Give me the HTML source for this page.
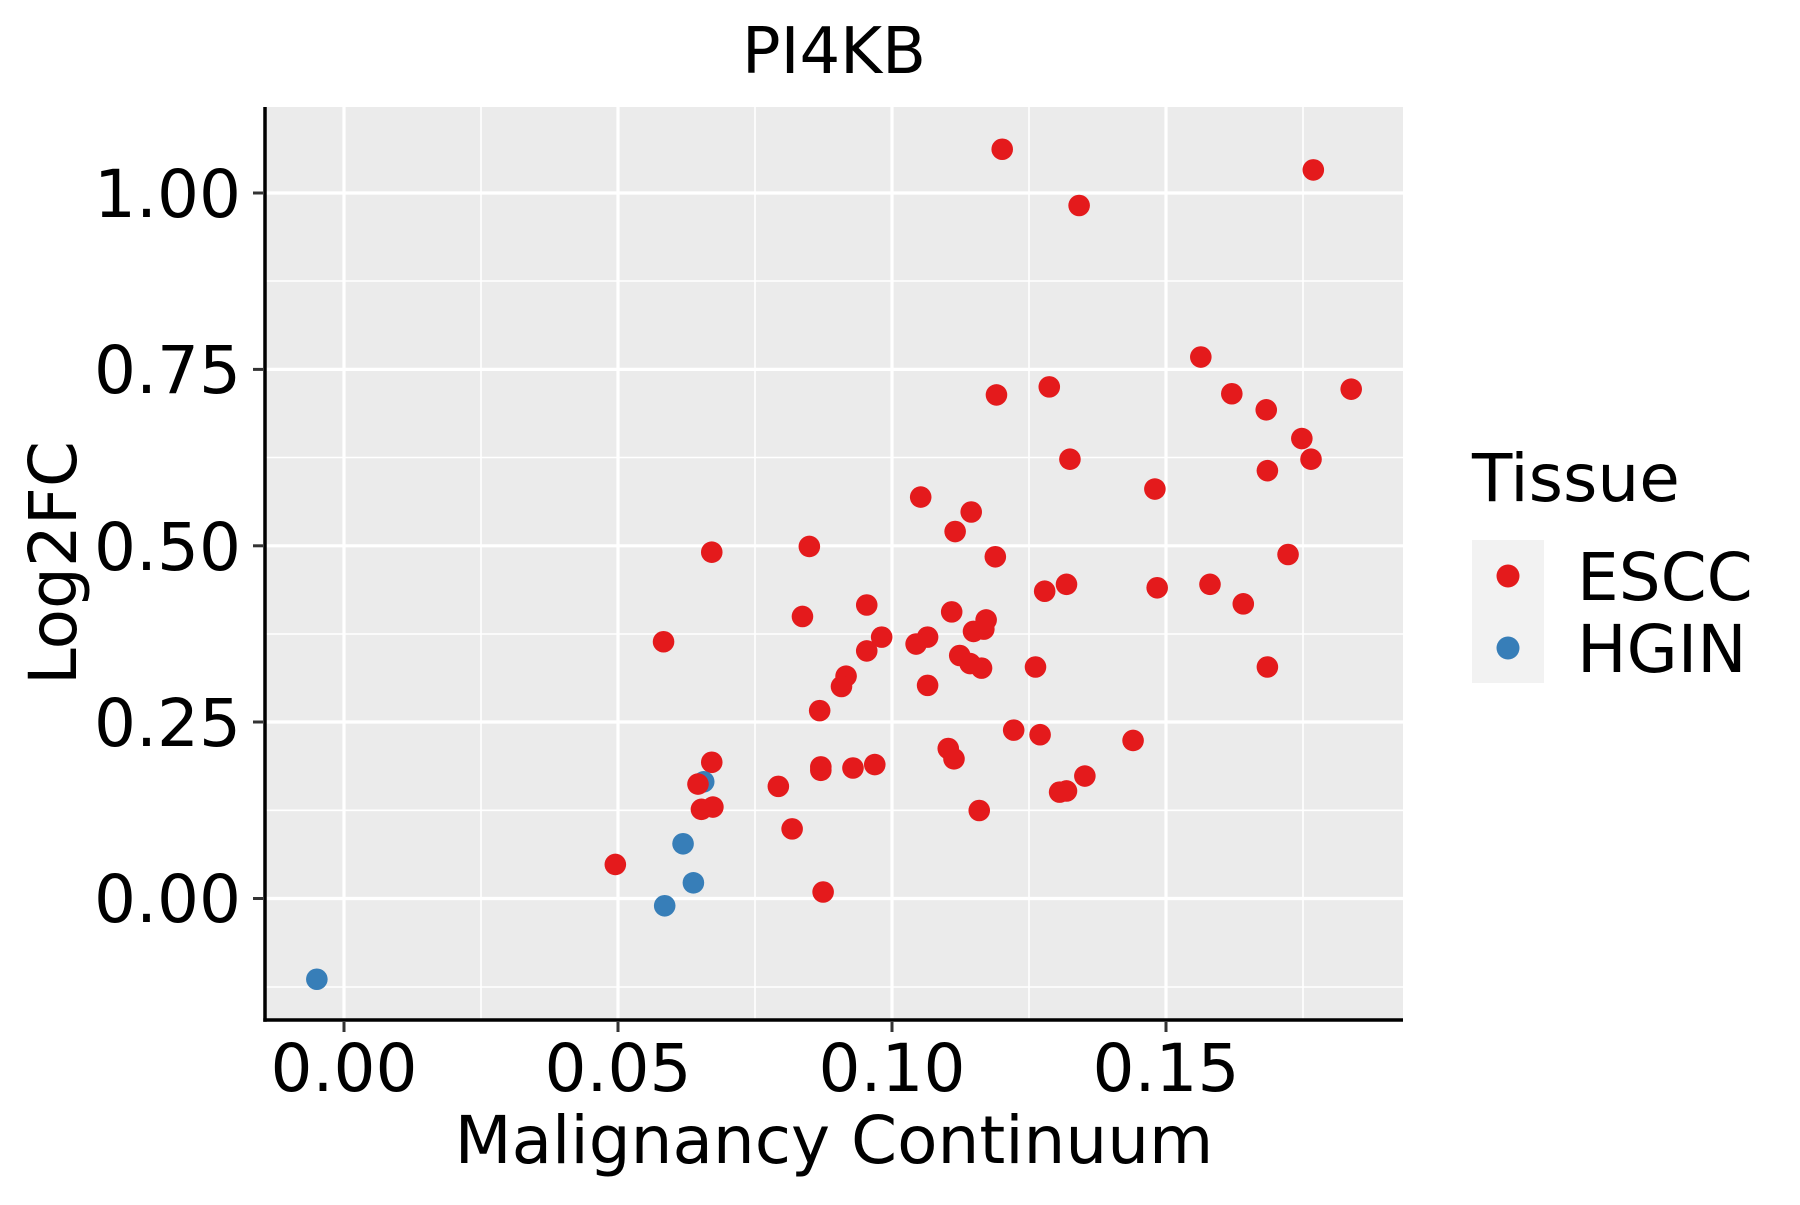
<!DOCTYPE html>
<html><head><meta charset="utf-8"><style>
html,body{margin:0;padding:0;background:#fff}
svg text{font-family:"DejaVu Sans","Liberation Sans",sans-serif;fill:#000}
</style></head><body>
<svg width="1800" height="1200" viewBox="0 0 1800 1200" xmlns="http://www.w3.org/2000/svg">
<rect x="265" y="107" width="1138" height="913" fill="#EBEBEB"/>
<g stroke="#fff" stroke-width="1.6">
<line x1="265" x2="1403" y1="987" y2="987"/>
<line x1="265" x2="1403" y1="810.3" y2="810.3"/>
<line x1="265" x2="1403" y1="634" y2="634"/>
<line x1="265" x2="1403" y1="457.5" y2="457.5"/>
<line x1="265" x2="1403" y1="281" y2="281"/>
<line y1="107" y2="1020" x1="481" x2="481"/>
<line y1="107" y2="1020" x1="755" x2="755"/>
<line y1="107" y2="1020" x1="1029" x2="1029"/>
<line y1="107" y2="1020" x1="1303" x2="1303"/>
</g>
<g stroke="#fff" stroke-width="3.2">
<line x1="265" x2="1403" y1="898.5" y2="898.5"/>
<line x1="265" x2="1403" y1="722" y2="722"/>
<line x1="265" x2="1403" y1="545.8" y2="545.8"/>
<line x1="265" x2="1403" y1="369.4" y2="369.4"/>
<line x1="265" x2="1403" y1="193" y2="193"/>
<line y1="107" y2="1020" x1="344" x2="344"/>
<line y1="107" y2="1020" x1="618" x2="618"/>
<line y1="107" y2="1020" x1="892" x2="892"/>
<line y1="107" y2="1020" x1="1166" x2="1166"/>
</g>
<g transform="scale(1.148)">
<g fill="#E41A1C">
<circle cx="873" cy="130" r="9.4"/><circle cx="1144" cy="148" r="9.4"/><circle cx="940" cy="179" r="9.4"/><circle cx="1046" cy="311" r="9.4"/><circle cx="1177" cy="339" r="9.4"/><circle cx="914" cy="337" r="9.4"/><circle cx="868" cy="344" r="9.4"/><circle cx="1073" cy="343" r="9.4"/><circle cx="1103" cy="357" r="9.4"/><circle cx="1134" cy="382" r="9.4"/><circle cx="932" cy="400" r="9.4"/><circle cx="1142" cy="400" r="9.4"/><circle cx="1104" cy="410" r="9.4"/><circle cx="1006" cy="426" r="9.4"/><circle cx="802" cy="433" r="9.4"/><circle cx="846" cy="446" r="9.4"/><circle cx="832" cy="463" r="9.4"/><circle cx="705" cy="476" r="9.4"/><circle cx="620" cy="481" r="9.4"/><circle cx="867" cy="485" r="9.4"/><circle cx="1122" cy="483" r="9.4"/><circle cx="929" cy="509" r="9.4"/><circle cx="1054" cy="509" r="9.4"/><circle cx="910" cy="515" r="9.4"/><circle cx="1008" cy="512" r="9.4"/><circle cx="1083" cy="526" r="9.4"/><circle cx="829" cy="533" r="9.4"/><circle cx="699" cy="537" r="9.4"/><circle cx="859" cy="540" r="9.4"/><circle cx="857" cy="548" r="9.4"/><circle cx="848" cy="550" r="9.4"/><circle cx="768" cy="555" r="9.4"/><circle cx="808" cy="555" r="9.4"/><circle cx="798" cy="561" r="9.4"/><circle cx="578" cy="559" r="9.4"/><circle cx="755" cy="527" r="9.4"/><circle cx="755" cy="567" r="9.4"/><circle cx="836" cy="571" r="9.4"/><circle cx="845" cy="578" r="9.4"/><circle cx="855" cy="582" r="9.4"/><circle cx="902" cy="581" r="9.4"/><circle cx="1104" cy="581" r="9.4"/><circle cx="737" cy="589" r="9.4"/><circle cx="733" cy="598" r="9.4"/><circle cx="808" cy="597" r="9.4"/><circle cx="714" cy="619" r="9.4"/><circle cx="883" cy="636" r="9.4"/><circle cx="906" cy="640" r="9.4"/><circle cx="987" cy="645" r="9.4"/><circle cx="826" cy="652" r="9.4"/><circle cx="831" cy="661" r="9.4"/><circle cx="762" cy="666" r="9.4"/><circle cx="743" cy="669" r="9.4"/><circle cx="715" cy="668" r="9.4"/><circle cx="715" cy="671" r="9.4"/><circle cx="620" cy="664" r="9.4"/><circle cx="945" cy="676" r="9.4"/><circle cx="929" cy="689" r="9.4"/><circle cx="923" cy="690" r="9.4"/>
</g>
<g fill="#377EB8">
<circle cx="613" cy="681" r="9.4"/><circle cx="595" cy="735" r="9.4"/><circle cx="604" cy="769" r="9.4"/><circle cx="579" cy="789" r="9.4"/><circle cx="276" cy="853" r="9.4"/>
</g>
<g fill="#E41A1C">
<circle cx="608" cy="683" r="9.4"/><circle cx="678" cy="685" r="9.4"/><circle cx="611" cy="705" r="9.4"/><circle cx="621" cy="703" r="9.4"/><circle cx="853" cy="706" r="9.4"/><circle cx="690" cy="722" r="9.4"/><circle cx="536" cy="753" r="9.4"/><circle cx="717" cy="777" r="9.4"/>
</g>
</g>
<g stroke="#000" stroke-width="3.5" fill="none">
<line x1="265" y1="107" x2="265" y2="1021.7"/>
<line x1="263.3" y1="1020" x2="1403" y2="1020"/>
</g>
<g stroke="#333" stroke-width="3">
<line x1="253" x2="263" y1="898.5" y2="898.5"/>
<line x1="253" x2="263" y1="722" y2="722"/>
<line x1="253" x2="263" y1="545.8" y2="545.8"/>
<line x1="253" x2="263" y1="369.4" y2="369.4"/>
<line x1="253" x2="263" y1="193" y2="193"/>
<line y1="1022" y2="1032" x1="344" x2="344"/>
<line y1="1022" y2="1032" x1="618" x2="618"/>
<line y1="1022" y2="1032" x1="892" x2="892"/>
<line y1="1022" y2="1032" x1="1166" x2="1166"/>
</g>
<g font-size="66" text-anchor="end">
<text x="241" y="922">0.00</text>
<text x="241" y="746">0.25</text>
<text x="241" y="570">0.50</text>
<text x="241" y="393">0.75</text>
<text x="241" y="217">1.00</text>
</g>
<g font-size="66" text-anchor="middle">
<text x="344" y="1091">0.00</text>
<text x="618" y="1091">0.05</text>
<text x="892" y="1091">0.10</text>
<text x="1166" y="1091">0.15</text>
</g>
<text x="834" y="1163" font-size="66" text-anchor="middle">Malignancy Continuum</text>
<text transform="translate(76,563) rotate(-90)" font-size="66" text-anchor="middle">Log2FC</text>
<text x="834" y="73" font-size="64" text-anchor="middle">PI4KB</text>
<text x="1472" y="501" font-size="66">Tissue</text>
<rect x="1472" y="540" width="72" height="143" fill="#F2F2F2"/>
<circle cx="1508" cy="576" r="11.5" fill="#E41A1C"/>
<circle cx="1508" cy="648" r="11.5" fill="#377EB8"/>
<text x="1577" y="600" font-size="66">ESCC</text>
<text x="1577" y="672" font-size="66">HGIN</text>
</svg>
</body></html>
